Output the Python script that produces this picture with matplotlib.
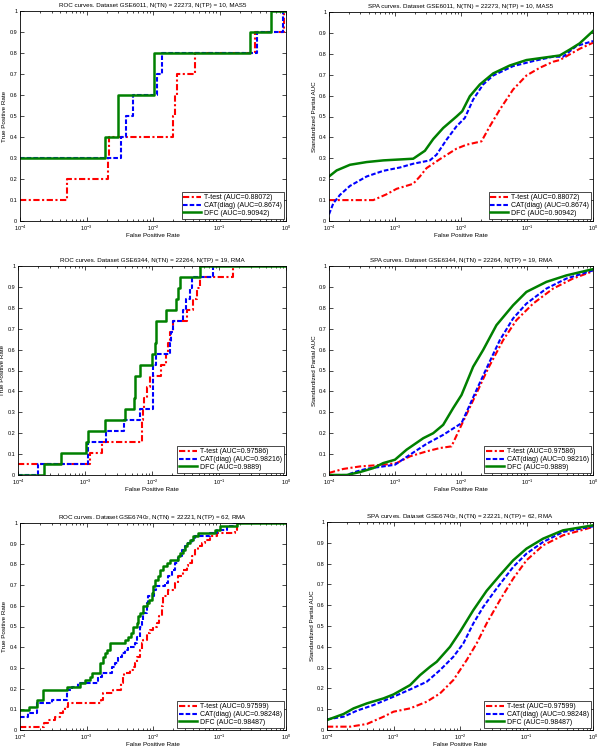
import numpy as np
import matplotlib
matplotlib.use("Agg")
import matplotlib.pyplot as plt
from matplotlib.ticker import LogLocator, FixedLocator, FuncFormatter, NullFormatter

plt.rcParams['font.family'] = ['Liberation Sans', 'DejaVu Sans']
plt.rcParams['mathtext.fontset'] = 'custom'
plt.rcParams['mathtext.rm'] = 'Liberation Sans'
plt.rcParams['mathtext.it'] = 'Liberation Sans:italic'

# ---------------- data ----------------
titles = [
    "ROC curves. Dataset GSE6011, N(TN) = 22273, N(TP) = 10, MAS5",
    "SPA curves. Dataset GSE6011, N(TN) = 22273, N(TP) = 10, MAS5",
    "ROC curves. Dataset GSE6344, N(TN) = 22264, N(TP) = 19, RMA",
    "SPA curves. Dataset GSE6344, N(TN) = 22264, N(TP) = 19, RMA",
    "ROC curves. Dataset GSE6740$_{2}$, N(TN) = 22221, N(TP) = 62, RMA",
    "SPA curves. Dataset GSE6740$_{2}$, N(TN) = 22221, N(TP) = 62, RMA",
]
methods = ["T-test", "CAT(diag)", "DFC"]
auc_6011 = ["0.88072", "0.8674", "0.90942"]
auc_6344 = ["0.97586", "0.98216", "0.9889"]
auc_6740 = ["0.97599", "0.98248", "0.98487"]
n_tp = [10, 19, 62]

# ROC step curves: log10(FPR) at each step, number of true positives after the step
roc1_ttest_lgfpr = [-4.0, -3.298, -2.682, -2.657, -1.694, -1.669, -1.634, -1.37, -0.466, -0.03, 0.0]
roc1_ttest_tp    = [1, 2, 3, 4, 5, 6, 7, 8, 9, 10, 10]
roc1_cat_lgfpr   = [-4.0, -2.481, -2.411, -2.296, -1.945, -1.86, -0.441, -0.04, 0.0]
roc1_cat_tp      = [3, 4, 5, 6, 7, 8, 9, 10, 10]
roc1_dfc_lgfpr   = [-4.0, -2.722, -2.521, -1.985, -0.541, -0.23, 0.0]
roc1_dfc_tp      = [3, 4, 6, 8, 9, 10, 10]

roc2_ttest_lgfpr = [-4.0, -2.932, -2.748, -2.152, -2.142, -2.127, -2.112, -2.077, -2.037, -1.863,
                    -1.794, -1.754, -1.729, -1.68, -1.481, -1.391, -1.332, -1.282, -0.795, 0.0]
roc2_ttest_tp    = [1, 2, 3, 4, 5, 6, 7, 8, 9, 10, 11, 12, 13, 14, 15, 16, 17, 18, 19, 19]
roc2_cat_lgfpr   = [-4.0, -3.702, -2.962, -2.683, -2.425, -2.176, -1.988, -1.938, -1.729, -1.71,
                    -1.694, -1.53, -1.496, -1.431, -1.396, -1.093, 0.0]
roc2_cat_tp      = [0, 1, 3, 4, 5, 6, 10, 11, 12, 13, 14, 15, 16, 17, 18, 19, 19]
roc2_dfc_lgfpr   = [-4.0, -3.617, -3.354, -2.981, -2.962, -2.698, -2.4, -2.276, -2.261, -2.251,
                    -2.186, -2.002, -1.953, -1.943, -1.938, -1.794, -1.645, -1.605, -1.58, -1.282, 0.0]
roc2_dfc_tp      = [0, 1, 2, 3, 4, 5, 6, 7, 8, 9, 10, 11, 12, 13, 14, 15, 16, 17, 18, 19, 19]

roc3_ttest_lgfpr = [-4.0, -3.639, -3.574, -3.474, -3.398, -3.348, -3.323, -3.273, -2.782, -2.747,
                    -2.596, -2.486, -2.456, -2.436, -2.346, -2.306, -2.271, -2.246, -2.195, -2.17,
                    -2.145, -2.095, -2.045, -2.005, -1.945, -1.905, -1.87, -1.845, -1.769, -1.669,
                    -1.619, -1.544, -1.494, -1.469, -1.419, -1.368, -1.318, -1.268, -1.218, -1.143,
                    -1.043, -0.767, -0.732, 0.0]
roc3_ttest_tp    = [1, 2, 3, 4, 5, 6, 7, 8, 9, 11, 12, 14, 16, 17, 18, 19, 20, 22, 24, 26,
                    27, 29, 30, 31, 32, 34, 37, 40, 42, 44, 46, 48, 49, 50, 52, 54, 55, 56, 57, 58,
                    59, 60, 62, 62]
roc3_cat_lgfpr   = [-4.0, -3.875, -3.739, -3.514, -3.298, -3.223, -3.123, -2.822, -2.772, -2.622,
                    -2.571, -2.521, -2.471, -2.421, -2.371, -2.271, -2.246, -2.195, -2.17, -2.145,
                    -2.095, -2.07, -1.985, -1.955, -1.82, -1.769, -1.719, -1.669, -1.619, -1.569,
                    -1.519, -1.469, -1.419, -1.368, -1.143, -1.043, -0.892, -0.792, 0.0]
roc3_cat_tp      = [4, 5, 8, 9, 12, 13, 14, 16, 17, 19, 20, 22, 23, 24, 25, 26, 28, 31, 33, 35,
                    38, 40, 42, 43, 44, 46, 48, 50, 52, 54, 55, 56, 57, 58, 59, 60, 61, 62, 62]
roc3_dfc_lgfpr   = [-4.0, -3.86, -3.749, -3.649, -3.298, -3.098, -3.023, -2.947, -2.922, -2.797,
                    -2.747, -2.722, -2.697, -2.647, -2.421, -2.371, -2.336, -2.306, -2.246, -2.221,
                    -2.195, -2.145, -2.095, -2.06, -2.02, -1.995, -1.97, -1.92, -1.895, -1.845,
                    -1.794, -1.744, -1.619, -1.594, -1.544, -1.519, -1.494, -1.444, -1.393, -1.318,
                    -1.068, -0.992, -0.742, 0.0]
roc3_dfc_tp      = [6, 7, 9, 12, 13, 14, 15, 16, 17, 20, 22, 23, 24, 26, 27, 28, 29, 31, 32, 34,
                    35, 37, 38, 39, 41, 43, 45, 46, 48, 49, 50, 51, 52, 53, 54, 55, 56, 57, 58, 59,
                    60, 61, 62, 62]

# SPA curves: log10(FPR) and standardized partial AUC
spa1_ttest_lgfpr = [-4.0, -3.329, -3.127, -2.976, -2.724, -2.623, -2.522, -2.32, -2.068, -1.917,
                    -1.69, -1.564, -1.412, -1.211, -1.009, -0.807, -0.605, -0.504, -0.353, -0.202, 0.0]
spa1_ttest       = [0.1, 0.1, 0.128, 0.154, 0.178, 0.213, 0.253, 0.296, 0.346, 0.365,
                    0.381, 0.453, 0.533, 0.629, 0.696, 0.733, 0.762, 0.77, 0.797, 0.824, 0.853]
spa1_cat_lgfpr   = [-4.0, -3.934, -3.834, -3.682, -3.43, -3.178, -2.926, -2.724, -2.472, -2.371,
                    -2.219, -2.068, -1.942, -1.816, -1.665, -1.513, -1.211, -0.908, -0.605, -0.454,
                    -0.252, 0.0]
spa1_cat         = [0.032, 0.085, 0.125, 0.168, 0.213, 0.24, 0.256, 0.274, 0.29, 0.317,
                    0.389, 0.453, 0.493, 0.581, 0.653, 0.696, 0.741, 0.765, 0.786, 0.786,
                    0.837, 0.861]
spa1_dfc_lgfpr   = [-4.0, -3.884, -3.682, -3.43, -3.178, -2.724, -2.547, -2.421, -2.27, -2.068,
                    -1.982, -1.866, -1.715, -1.513, -1.261, -1.009, -0.504, -0.353, -0.202, 0.0]
spa1_dfc         = [0.213, 0.242, 0.269, 0.282, 0.29, 0.298, 0.336, 0.392, 0.445, 0.50,
                    0.525, 0.597, 0.653, 0.706, 0.744, 0.77, 0.792, 0.82, 0.85, 0.909]

spa2_ttest_lgfpr = [-4.0, -3.783, -3.531, -3.178, -2.976, -2.774, -2.522, -2.32, -2.144, -1.992,
                    -1.765, -1.589, -1.362, -1.16, -0.908, -0.605, -0.303, 0.0]
spa2_ttest       = [0.01, 0.029, 0.041, 0.049, 0.057, 0.089, 0.113, 0.129, 0.137, 0.24,
                    0.391, 0.51, 0.645, 0.741, 0.82, 0.892, 0.94, 0.975]
spa2_cat_lgfpr   = [-4.0, -3.733, -3.581, -3.43, -3.178, -3.001, -2.774, -2.522, -2.27, -1.992,
                    -1.765, -1.614, -1.412, -1.211, -1.009, -0.706, -0.403, 0.0]
spa2_cat         = [0.0, 0.0, 0.017, 0.03, 0.041, 0.049, 0.097, 0.149, 0.192, 0.248,
                    0.407, 0.51, 0.645, 0.749, 0.82, 0.892, 0.94, 0.979]
spa2_dfc_lgfpr   = [-4.0, -3.733, -3.531, -3.329, -3.178, -3.001, -2.825, -2.572, -2.421, -2.27,
                    -2.119, -1.992, -1.816, -1.665, -1.463, -1.211, -1.009, -0.706, -0.403, 0.0]
spa2_dfc         = [0.0, 0.0, 0.014, 0.033, 0.057, 0.073, 0.121, 0.176, 0.2, 0.24,
                    0.32, 0.383, 0.518, 0.598, 0.717, 0.812, 0.876, 0.924, 0.955, 0.985]

spa3_ttest_lgfpr = [-4.0, -3.65, -3.4, -3.15, -3.0, -2.75, -2.5, -2.3, -2.1, -1.9,
                    -1.75, -1.6, -1.4, -1.2, -1.0, -0.75, -0.45, 0.0]
spa3_ttest       = [0.016, 0.016, 0.029, 0.064, 0.088, 0.104, 0.136, 0.176, 0.24, 0.336,
                    0.416, 0.512, 0.624, 0.728, 0.816, 0.888, 0.936, 0.976]
spa3_cat_lgfpr   = [-4.0, -3.75, -3.55, -3.3, -3.0, -2.75, -2.5, -2.3, -2.1, -1.95,
                    -1.8, -1.65, -1.45, -1.2, -1.0, -0.75, -0.45, 0.0]
spa3_cat         = [0.051, 0.064, 0.093, 0.12, 0.16, 0.195, 0.232, 0.288, 0.352, 0.416,
                    0.512, 0.592, 0.68, 0.784, 0.848, 0.904, 0.952, 0.979]
spa3_dfc_lgfpr   = [-4.0, -3.75, -3.6, -3.4, -3.15, -3.0, -2.75, -2.6, -2.45, -2.35,
                    -2.15, -2.0, -1.8, -1.6, -1.4, -1.2, -1.0, -0.75, -0.45, 0.0]
spa3_dfc         = [0.048, 0.077, 0.104, 0.128, 0.152, 0.171, 0.216, 0.264, 0.304, 0.328,
                    0.4, 0.472, 0.576, 0.669, 0.744, 0.816, 0.872, 0.92, 0.96, 0.984]

x_ticks = [1e-4, 1e-3, 1e-2, 1e-1, 1e0]
y_ticks = [0, 0.1, 0.2, 0.3, 0.4, 0.5, 0.6, 0.7, 0.8, 0.9, 1.0]

# ---------------- styling ----------------
colors = ["#ff0000", "#0000ff", "#008000"]
dashes = [(3.0, 1.2, 1.0, 1.2), (2.2, 1.0), ()]
widths = [1.5, 1.5, 1.8]
FS_TICK = 4.0
FS_LAB = 4.5
FS_LEG = 5.0

W, H = 600.0, 750.0
# axes boxes in pixels: left, top, right, bottom
boxes = [
    (20, 11, 286, 221), (329, 12, 593, 221),
    (18, 266, 286, 475), (329, 266, 593, 475),
    (20, 523, 286, 730), (327, 522, 593, 730),
]
positions = [[l / W, 1 - b / H, (r - l) / W, (b - t) / H] for (l, t, r, b) in boxes]

fig = plt.figure(figsize=(6.0, 7.5), dpi=100)

roc_data = [
    [(roc1_ttest_lgfpr, roc1_ttest_tp), (roc1_cat_lgfpr, roc1_cat_tp), (roc1_dfc_lgfpr, roc1_dfc_tp)],
    [(roc2_ttest_lgfpr, roc2_ttest_tp), (roc2_cat_lgfpr, roc2_cat_tp), (roc2_dfc_lgfpr, roc2_dfc_tp)],
    [(roc3_ttest_lgfpr, roc3_ttest_tp), (roc3_cat_lgfpr, roc3_cat_tp), (roc3_dfc_lgfpr, roc3_dfc_tp)],
]
spa_data = [
    [(spa1_ttest_lgfpr, spa1_ttest), (spa1_cat_lgfpr, spa1_cat), (spa1_dfc_lgfpr, spa1_dfc)],
    [(spa2_ttest_lgfpr, spa2_ttest), (spa2_cat_lgfpr, spa2_cat), (spa2_dfc_lgfpr, spa2_dfc)],
    [(spa3_ttest_lgfpr, spa3_ttest), (spa3_cat_lgfpr, spa3_cat), (spa3_dfc_lgfpr, spa3_dfc)],
]
aucs = [auc_6011, auc_6344, auc_6740]


def style_axes(ax, title, ylabel, box):
    l, t, r, b = box
    ax.set_xscale('log')
    ax.set_xlim(1e-4, 1)
    ax.set_ylim(0, 1)
    ax.xaxis.set_major_locator(FixedLocator(x_ticks))
    ax.xaxis.set_minor_locator(LogLocator(base=10, subs=np.arange(2, 10)))
    ax.xaxis.set_minor_formatter(NullFormatter())
    ax.yaxis.set_major_locator(FixedLocator(y_ticks))
    ax.yaxis.set_major_formatter(FuncFormatter(lambda v, p: f"{v:g}"))
    ax.tick_params(which='both', direction='in', top=True, right=True,
                   labelsize=FS_TICK, width=0.5, pad=2)
    ax.tick_params(which='major', length=3)
    ax.tick_params(which='minor', length=1.6)
    for s in ax.spines.values():
        s.set_linewidth(0.6)
    ax.set_title(title, fontsize=FS_LAB, pad=3)
    ax.set_xlabel("False Positive Rate", fontsize=FS_LAB)
    ax.set_ylabel(ylabel, fontsize=FS_LAB)
    ax.xaxis.set_label_coords(0.5, -12.0 / (b - t))
    ax.yaxis.set_label_coords(-12.5 / (r - l), 0.5)


def add_legend(ax):
    leg = ax.legend(loc='lower right', fontsize=FS_LEG, fancybox=False, edgecolor='black',
                    framealpha=1, handlelength=2.6, handletextpad=0.35, borderaxespad=0.35,
                    labelspacing=0.12, borderpad=0.25)
    leg.get_frame().set_linewidth(0.5)


for r in range(3):
    ax = fig.add_axes(positions[2 * r])
    for i, (lg, tp) in enumerate(roc_data[r]):
        ax.step(10.0 ** np.array(lg), np.array(tp) / n_tp[r], where='post',
                color=colors[i], lw=widths[i], dashes=dashes[i],
                label=f"{methods[i]} (AUC={aucs[r][i]})")
    style_axes(ax, titles[2 * r], "True Positive Rate", boxes[2 * r])
    add_legend(ax)

    ax = fig.add_axes(positions[2 * r + 1])
    for i, (lg, v) in enumerate(spa_data[r]):
        ax.plot(10.0 ** np.array(lg), v, color=colors[i], lw=widths[i], dashes=dashes[i],
                label=f"{methods[i]} (AUC={aucs[r][i]})")
    style_axes(ax, titles[2 * r + 1], "Standardized Partial AUC", boxes[2 * r + 1])
    add_legend(ax)

fig.savefig("out.png", dpi=100)
